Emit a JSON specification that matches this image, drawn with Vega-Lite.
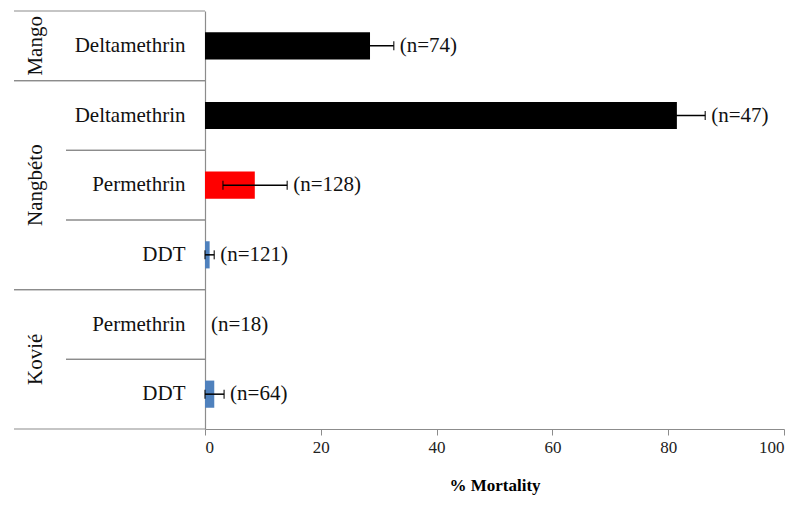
{
  "$schema": "https://vega.github.io/schema/vega-lite/v6.json",
  "padding": {"left": 13, "top": 10, "right": 16, "bottom": 4},
  "background": "white",
  "spacing": 0,
  "bounds": "flush",
  "config": {
    "view": {"stroke": null},
    "font": "Liberation Serif",
    "axis": {"labelFont": "Liberation Serif", "labelFontSize": 17, "titleFont": "Liberation Serif", "titleFontSize": 17, "labelColor": "#222222", "titleColor": "#000000"}
  },
  "data": {
    "values": [
      {"order": 1, "group": "Mango", "insecticide": "Deltamethrin", "mortality": 28.5, "lo": 24.4, "hi": 32.6, "n": "(n=74)"},
      {"order": 2, "group": "Nangbéto", "insecticide": "Deltamethrin", "mortality": 81.5, "lo": 76.6, "hi": 86.4, "n": "(n=47)"},
      {"order": 3, "group": "Nangbéto", "insecticide": "Permethrin", "mortality": 8.6, "lo": 3.1, "hi": 14.2, "n": "(n=128)"},
      {"order": 4, "group": "Nangbéto", "insecticide": "DDT", "mortality": 0.8, "lo": 0, "hi": 1.6, "n": "(n=121)"},
      {"order": 5, "group": "Kovié", "insecticide": "Permethrin", "mortality": 0, "lo": 0, "hi": 0, "n": "(n=18)"},
      {"order": 6, "group": "Kovié", "insecticide": "DDT", "mortality": 1.6, "lo": 0, "hi": 3.3, "n": "(n=64)"}
    ]
  },
  "hconcat": [
    {
      "width": 52,
      "height": 418,
      "layer": [
        {
          "transform": [
            {"window": [{"op": "row_number", "as": "rn"}], "groupby": ["group"], "sort": [{"field": "order", "order": "ascending"}]},
            {"filter": "datum.rn == 1"}
          ],
          "mark": {"type": "rule", "color": "#8c8c8c", "strokeWidth": 1.2},
          "encoding": {
            "y": {"field": "order", "type": "ordinal", "bandPosition": 0, "scale": {"domain": [1, 2, 3, 4, 5, 6], "paddingInner": 0, "paddingOuter": 0}, "axis": null}
          }
        },
        {
          "transform": [
            {"window": [{"op": "row_number", "as": "rn"}], "groupby": ["group"], "sort": [{"field": "order", "order": "descending"}]},
            {"filter": "datum.rn == 1"}
          ],
          "mark": {"type": "rule", "color": "#8c8c8c", "strokeWidth": 1.2},
          "encoding": {
            "y": {"field": "order", "type": "ordinal", "bandPosition": 1, "scale": {"domain": [1, 2, 3, 4, 5, 6], "paddingInner": 0, "paddingOuter": 0}, "axis": null}
          }
        },
        {
          "transform": [
            {"aggregate": [{"op": "mean", "field": "order", "as": "mid"}], "groupby": ["group"]}
          ],
          "mark": {"type": "text", "angle": 270, "fontSize": 21, "align": "center", "baseline": "middle", "dy": -4, "color": "#111111"},
          "encoding": {
            "y": {"field": "mid", "type": "quantitative", "scale": {"domain": [0.5, 6.5], "reverse": true, "nice": false, "zero": false}, "axis": null},
            "text": {"field": "group"}
          }
        }
      ],
      "resolve": {"scale": {"y": "independent"}}
    },
    {
      "width": 139,
      "height": 418,
      "encoding": {
        "y": {"field": "order", "type": "ordinal", "scale": {"domain": [1, 2, 3, 4, 5, 6], "paddingInner": 0, "paddingOuter": 0}, "axis": null}
      },
      "layer": [
        {"mark": {"type": "rule", "color": "#8c8c8c", "strokeWidth": 1.2}, "encoding": {"y": {"field": "order", "type": "ordinal", "bandPosition": 0}}},
        {"mark": {"type": "rule", "color": "#8c8c8c", "strokeWidth": 1.2}, "encoding": {"y": {"field": "order", "type": "ordinal", "bandPosition": 1}}},
        {
          "mark": {"type": "text", "fontSize": 21, "align": "right", "baseline": "middle", "dx": 50, "color": "#111111"},
          "encoding": {"text": {"field": "insecticide"}}
        }
      ]
    },
    {
      "width": 579,
      "height": 418,
      "encoding": {
        "y": {
          "field": "order", "type": "ordinal",
          "scale": {"domain": [1, 2, 3, 4, 5, 6], "paddingInner": 0, "paddingOuter": 0},
          "axis": {"labels": false, "ticks": false, "domain": true, "domainColor": "#8c8c8c", "domainWidth": 1.2, "title": null}
        }
      },
      "layer": [
        {
          "mark": {"type": "bar", "height": {"band": 0.39}},
          "encoding": {
            "x": {
              "field": "mortality", "type": "quantitative",
              "scale": {"domain": [0, 100], "nice": false},
              "axis": {"values": [0, 20, 40, 60, 80, 100], "grid": false, "title": "% Mortality", "labelFont": {"expr": "'Liberation Serif'"}, "labelFontSize": {"expr": "17"}, "labelPadding": 4, "titleFont": {"expr": "'Liberation Serif'"}, "titleFontSize": {"expr": "17"}, "titleFontWeight": "bold", "titlePadding": 22, "tickSize": 6, "tickColor": "#8c8c8c", "domainColor": "#8c8c8c", "domainWidth": 1.2}
            },
            "color": {
              "field": "insecticide", "type": "nominal",
              "scale": {"domain": ["Deltamethrin", "Permethrin", "DDT"], "range": ["#000000", "#ff0000", "#4f81bd"]},
              "legend": null
            }
          }
        },
        {
          "transform": [{"filter": "datum.hi > 0"}],
          "mark": {"type": "rule", "color": "#000000", "strokeWidth": 1.5},
          "encoding": {"x": {"field": "lo", "type": "quantitative"}, "x2": {"field": "hi"}}
        },
        {
          "transform": [{"filter": "datum.hi > 0"}],
          "mark": {"type": "tick", "color": "#000000", "size": 9, "thickness": 1.5, "orient": "vertical"},
          "encoding": {"x": {"field": "lo", "type": "quantitative"}}
        },
        {
          "transform": [{"filter": "datum.hi > 0"}],
          "mark": {"type": "tick", "color": "#000000", "size": 9, "thickness": 1.5, "orient": "vertical"},
          "encoding": {"x": {"field": "hi", "type": "quantitative"}}
        },
        {
          "mark": {"type": "text", "fontSize": 21, "align": "left", "baseline": "middle", "dx": 6, "color": "#111111"},
          "encoding": {"x": {"field": "hi", "type": "quantitative"}, "text": {"field": "n"}}
        }
      ]
    }
  ]
}
